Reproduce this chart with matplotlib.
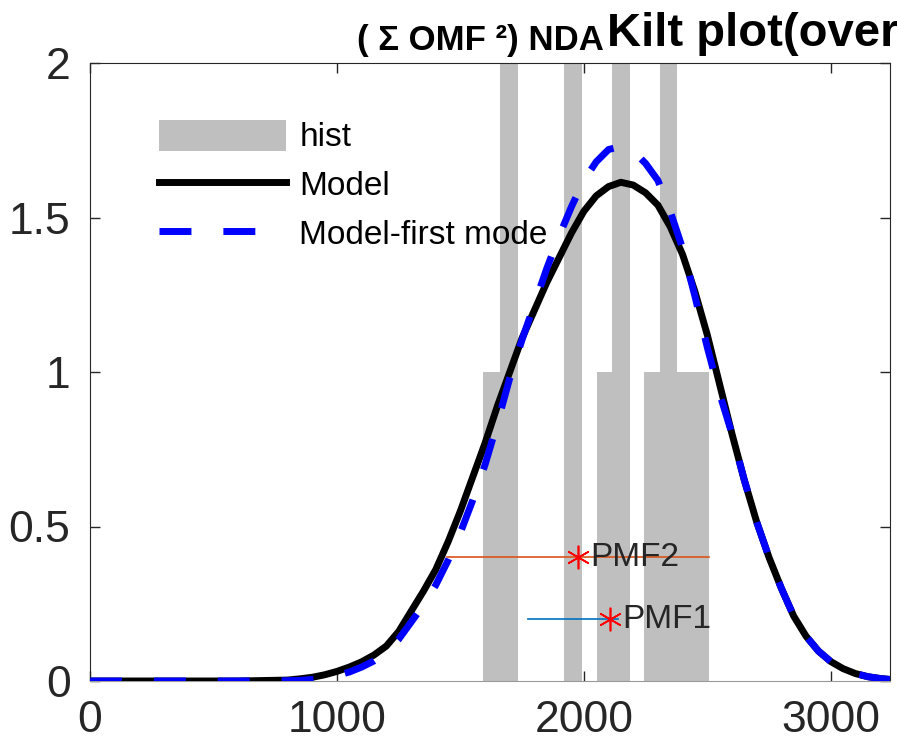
import numpy as np
import matplotlib
matplotlib.use('Agg')
from matplotlib import pyplot as plt

plt.rcParams['font.family'] = ['Liberation Sans', 'DejaVu Sans']

# histogram bars (left edge, right edge, count)
bar_left = [1591, 1660, 1919, 2053, 2113, 2243, 2308]
bar_right = [1733, 1733, 1992, 2186, 2186, 2506, 2376]
bar_count = [1, 2, 2, 1, 2, 1, 2]

# model curves
x_model = [0, 200, 400, 600, 800, 850, 900, 950, 1000, 1050, 1100, 1150, 1200, 1250,
           1300, 1350, 1400, 1450, 1500, 1550, 1600, 1650, 1700, 1750, 1800, 1850,
           1900, 1950, 2000, 2050, 2100, 2150, 2200, 2250, 2300, 2350, 2400, 2450,
           2500, 2550, 2600, 2650, 2700, 2750, 2800, 2850, 2900, 2950, 3000, 3050,
           3100, 3150, 3200, 3240]
y_model = [0, 0, 0, 0, 0.003, 0.007, 0.012, 0.02, 0.031, 0.045, 0.062, 0.084, 0.113, 0.16,
           0.225, 0.29, 0.36, 0.45, 0.55, 0.66, 0.77, 0.89, 1.0, 1.11, 1.20, 1.29,
           1.37, 1.45, 1.52, 1.57, 1.60, 1.614, 1.605, 1.58, 1.54, 1.47, 1.38, 1.26,
           1.12, 0.96, 0.80, 0.65, 0.515, 0.40, 0.30, 0.21, 0.145, 0.097, 0.063, 0.040,
           0.024, 0.014, 0.008, 0.005]
y_first = [0, 0, 0, 0, 0.001, 0.002, 0.005, 0.01, 0.018, 0.029, 0.045, 0.065, 0.092, 0.135,
           0.19, 0.245, 0.31, 0.39, 0.48, 0.585, 0.70, 0.835, 0.98, 1.105, 1.22, 1.335,
           1.44, 1.535, 1.62, 1.68, 1.72, 1.73, 1.715, 1.675, 1.62, 1.52, 1.40, 1.245,
           1.08, 0.93, 0.80, 0.65, 0.515, 0.40, 0.30, 0.21, 0.145, 0.097, 0.063, 0.040,
           0.024, 0.014, 0.008, 0.005]

# PMF markers: span of the horizontal line, marker position, height
pmf_names = ['PMF2', 'PMF1']
pmf_lo = [1445, 1775]
pmf_hi = [2506, 2140]
pmf_x = [1976, 2105]
pmf_y = [0.40, 0.20]
pmf_colors = ['#D95319', '#0072BD']

fig = plt.figure(figsize=(8.97, 7.46), dpi=100)
ax = fig.add_axes([90 / 897, 65 / 746, 800 / 897, 618 / 746])

widths = np.array(bar_right) - np.array(bar_left)
ax.bar(bar_left, bar_count, width=widths, align='edge', color='#bfbfbf',
       edgecolor='none', label='hist', zorder=1)
ax.plot(x_model, y_model, color='k', lw=5, label='Model', zorder=3)
ax.plot(x_model, y_first, color='#0000ff', lw=5, dashes=(4.6, 4.6),
        label='Model-first mode', zorder=4)

for name, lo, hi, xm, ym, c in zip(pmf_names, pmf_lo, pmf_hi, pmf_x, pmf_y, pmf_colors):
    ax.plot([lo, hi], [ym, ym], color=c, lw=1.2, zorder=5)
    ax.plot(xm, ym, marker=(6, 2, 0), color='red', ms=17, mew=1.2, zorder=6)
    ax.text(xm + 50, ym, name, fontsize=24, va='center', ha='left', color='#262626', zorder=7)

ax.set_xlim(0, 3240)
ax.set_ylim(0, 2)
ax.set_xticks([0, 1000, 2000, 3000])
ax.set_yticks([0, 0.5, 1, 1.5, 2])
ax.set_yticklabels(['0', '0.5', '1', '1.5', '2'])
ax.tick_params(direction='in', top=True, right=True, length=7, width=1,
               labelsize=32, colors='#262626', pad=14)
for s in ['left', 'top', 'right']:
    ax.spines[s].set_color('#262626')
ax.spines['bottom'].set_color('#9a9a9a')

handles, labels = ax.get_legend_handles_labels()
order = [2, 0, 1]
ax.legend([handles[i] for i in order], [labels[i] for i in order],
          loc='upper left', bbox_to_anchor=(0.07, 0.93), frameon=False, fontsize=24,
          handlelength=3.8, handleheight=1.05, handletextpad=0.4, labelspacing=0.45,
          borderaxespad=0)

# two-part title, left part smaller; the figure edge cuts the long part as in the source
t1 = fig.text(357 / 897, 1 - 50 / 746, '( \u03a3 OMF \u00b2) NDA', fontsize=25,
              fontweight='bold', va='baseline', ha='left')
fig.canvas.draw()
bb = t1.get_window_extent()
fig.text(bb.x1 / fig.bbox.width + 0.003, 1 - 46 / 746, 'Kilt plot(over', fontsize=34,
         fontweight='bold', va='baseline', ha='left')

fig.savefig('out.png', dpi=100)
